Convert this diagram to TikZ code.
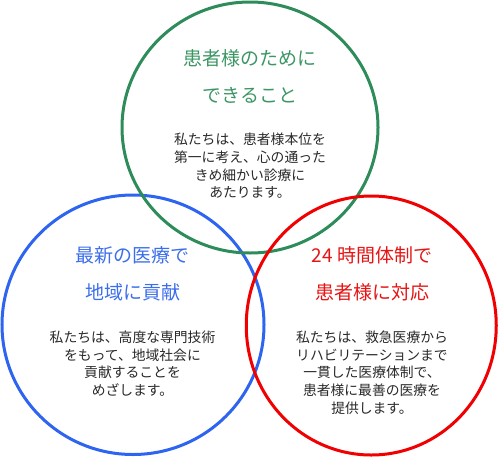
\documentclass[tikz,border=0pt]{standalone}
\usepackage{fontspec}
\usetikzlibrary{shapes.geometric}
\setmainfont{Noto Sans CJK JP}
\definecolor{cgreen}{RGB}{46,140,90}
\definecolor{cblue}{RGB}{45,100,240}
\definecolor{cred}{RGB}{240,0,0}
\definecolor{tgreen}{RGB}{60,150,100}
\definecolor{tblue}{RGB}{60,110,235}
\definecolor{tred}{RGB}{230,20,20}
\definecolor{tbody}{RGB}{40,40,40}
\tikzset{
  ring/.style={ellipse, line width=3pt, inner sep=0pt},
  title/.style={align=center, inner sep=0pt, font=\fontsize{19}{37}\selectfont},
  body/.style={align=center, inner sep=0pt, text=tbody, font=\fontsize{13.8}{17.7}\selectfont}
}
\begin{document}
\begin{tikzpicture}[x=1pt,y=-1pt]
\useasboundingbox (0,0) rectangle (500,458);
\node[ring, draw=cblue, minimum width=262pt, minimum height=259.5pt] (blue) at (133,324.75) {};
\node[ring, draw=cgreen, minimum width=256pt, minimum height=251pt] (green) at (250,127.5) {};
\node[ring, draw=cred, minimum width=250pt, minimum height=259pt] (red) at (371.25,325.5) {};

\node[title, text=tgreen] (gt) at (250,76.5) {患者様のために\\できること};
\node[body] (gb) at (250,166) {私たちは、患者様本位を\\第一に考え、心の通った\\きめ細かい診療に\\あたります。};

\node[title, text=tblue] (bt) at (132.5,273.5) {最新の医療で\\地域に貢献};
\node[body] (bb) at (132.5,363.5) {私たちは、高度な専門技術\\をもって、地域社会に\\貢献することを\\めざします。};

\node[title, text=tred] (rt) at (372,273.5) {24 時間体制で\\患者様に対応};
\node[body] (rb) at (372,372.5) {私たちは、救急医療から\\リハビリテーションまで\\一貫した医療体制で、\\患者様に最善の医療を\\提供します。};
\end{tikzpicture}
\end{document}
